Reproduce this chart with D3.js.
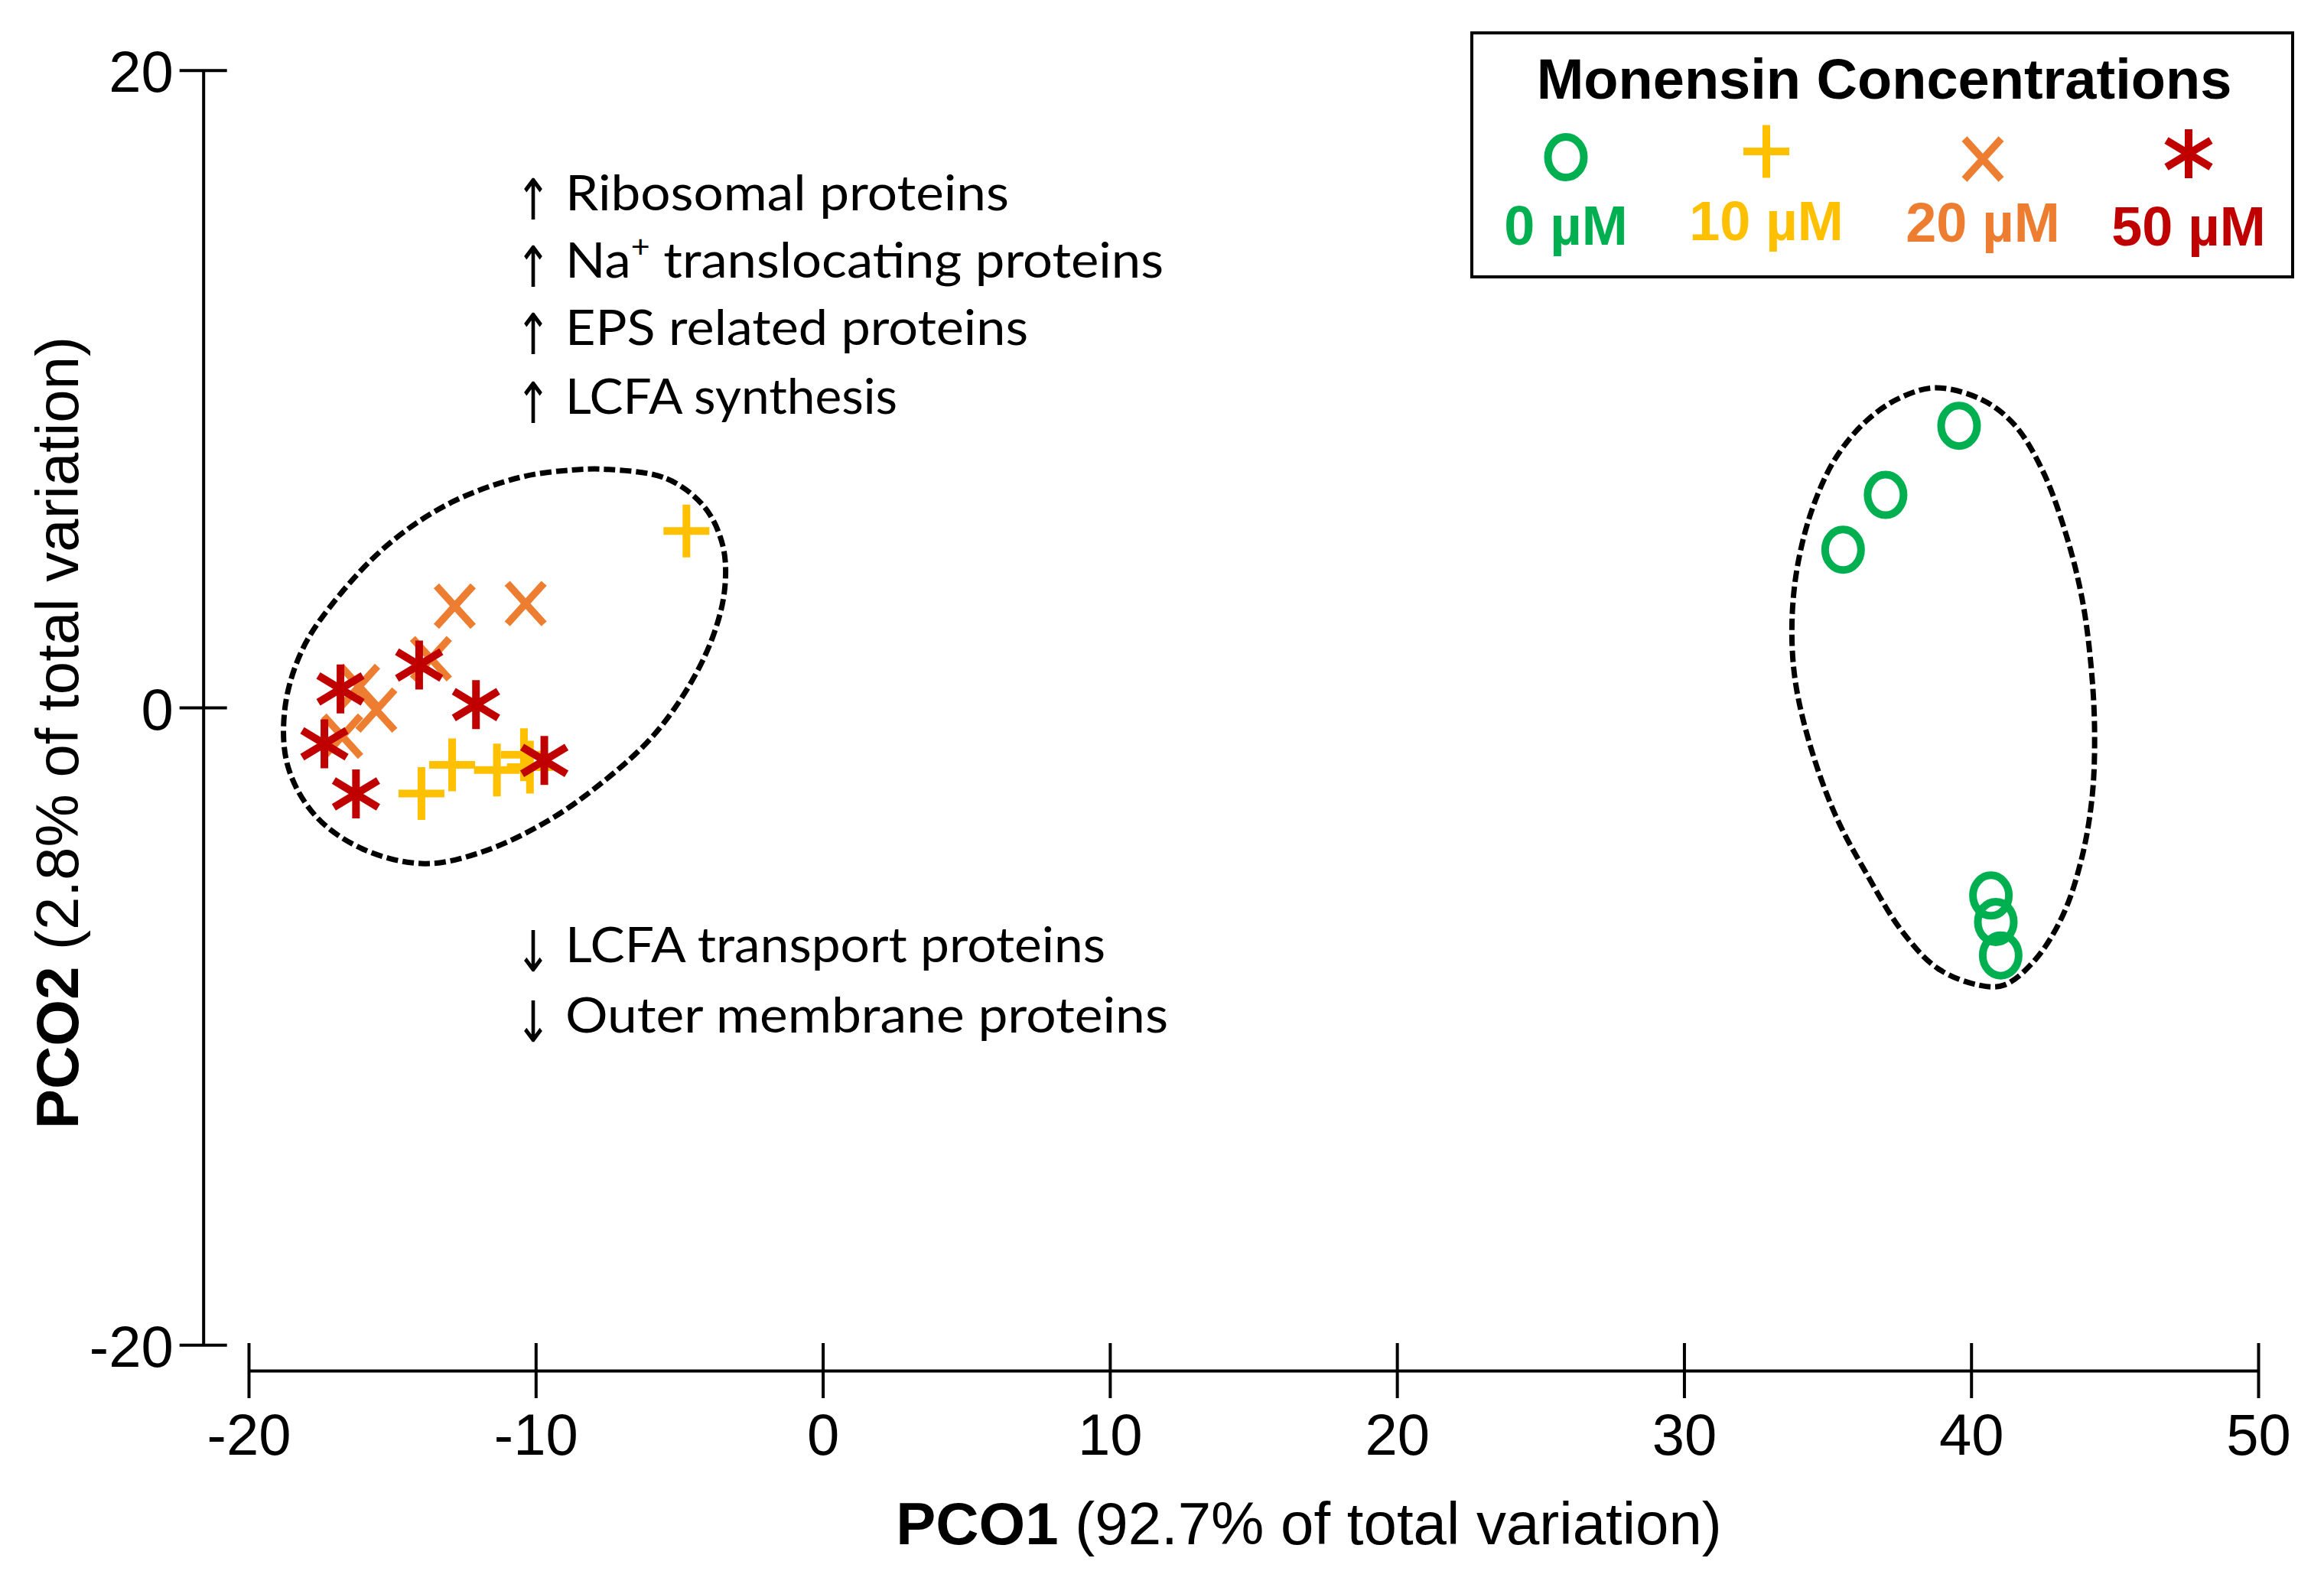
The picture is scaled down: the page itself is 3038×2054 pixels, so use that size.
<!DOCTYPE html>
<html><head><meta charset="utf-8">
<script src="https://cdn.jsdelivr.net/npm/d3@7"></script>
<style>body{margin:0;background:#fff}</style>
</head><body>
<svg id="c" width="3038" height="2054" xmlns="http://www.w3.org/2000/svg"></svg>
<script>
// ---------------- data ----------------
const xTicks = [-20, -10, 0, 10, 20, 30, 40, 50];
const yTicks = [-20, 0, 20];
const groups = ["0 µM", "10 µM", "20 µM", "50 µM"];
const groupColors = ["#00B050", "#FFC000", "#ED7D31", "#C00000"];
const groupSymbols = ["circle", "plus", "cross", "asterisk"];

// PCO1, PCO2 scores per concentration
const pts0  = [[39.58, 8.84], [37.02, 6.67], [35.54, 4.95], [40.69, -5.90], [40.86, -6.73], [41.03, -7.78]];
const pts10 = [[-4.75, 5.54], [-13.98, -2.70], [-12.91, -1.80], [-11.35, -1.96], [-10.41, -1.48], [-10.20, -1.87]];
const pts20 = [[-12.82, 3.18], [-10.35, 3.26], [-13.65, 1.53], [-16.15, 0.66], [-15.55, -0.08], [-16.74, -0.90]];
const pts50 = [[-16.80, 0.58], [-14.06, 1.33], [-17.36, -1.14], [-16.26, -2.71], [-12.08, 0.09], [-9.70, -1.66]];

// cluster outlines (data units)
const hullLeft = [[-7.46,7.47],[-5.44,7.18],[-4.13,6.30],[-3.48,5.07],[-3.42,3.69],[-3.83,2.22],[-4.67,0.66],
  [-5.92,-0.90],[-7.58,-2.28],[-9.60,-3.57],[-11.86,-4.53],[-13.88,-4.90],[-16.03,-4.44],[-17.69,-3.38],
  [-18.64,-1.82],[-18.73,0.01],[-18.11,1.85],[-16.86,3.50],[-15.08,5.16],[-12.93,6.44],[-10.55,7.22],[-8.77,7.45]];
const hullRight = [[38.75,10.03],[40.35,9.67],[41.51,8.87],[42.48,7.45],[43.28,5.51],[43.86,3.44],[44.17,1.38],
  [44.30,-0.69],[44.22,-2.76],[43.86,-4.70],[43.20,-6.51],[42.22,-7.93],[41.15,-8.71],[40.26,-8.71],
  [38.84,-8.19],[37.60,-7.03],[36.36,-5.22],[35.29,-3.41],[34.40,-1.21],[33.87,0.86],[33.76,2.67],
  [33.96,4.48],[34.49,6.29],[35.29,7.84],[36.36,9.00],[37.51,9.71]];

const upLabels = ["Ribosomal proteins", "Na|+| translocating proteins", "EPS related proteins", "LCFA synthesis"];
const downLabels = ["LCFA transport proteins", "Outer membrane proteins"];
const xTitle = ["PCO1", " (92.7% of total variation)"];
const yTitle = ["PCO2", " (2.8% of total variation)"];
const legendTitle = "Monensin Concentrations";

// ---------------- layout ----------------
const W = 3038, H = 2054;
const ARIAL = "'Liberation Sans', Arial, Helvetica, sans-serif";
const CAL = "Lato, 'Open Sans', sans-serif";
const svg = d3.select("#c");
svg.append("rect").attr("width", W).attr("height", H).attr("fill", "#fff");

const x = d3.scaleLinear().domain([-20, 50]).range([325, 2952]);
const y = d3.scaleLinear().domain([-20, 20]).range([1758.3, 91.7]);
const xAxisY = 1792, yAxisX = 265.7;
const fmt = d => String(d);

// x axis
const gx = svg.append("g").attr("transform", `translate(0,${xAxisY})`)
  .call(d3.axisBottom(x).tickValues(xTicks).tickSizeOuter(0).tickFormat(fmt));
gx.select(".domain").attr("stroke", "#000").attr("stroke-width", 4);
gx.selectAll(".tick line").attr("y1", -36).attr("y2", 36).attr("stroke", "#000").attr("stroke-width", 4);
gx.selectAll(".tick text").attr("y", 110).attr("dy", null).attr("fill", "#000")
  .style("font-family", ARIAL).style("font-size", "76px");
gx.attr("font-family", null).attr("font-size", null);

// y axis
const gy = svg.append("g").attr("transform", `translate(${yAxisX},0)`)
  .call(d3.axisLeft(y).tickValues(yTicks).tickSizeOuter(0).tickFormat(fmt));
gy.select(".domain").attr("stroke", "#000").attr("stroke-width", 4);
gy.selectAll(".tick line").attr("x1", -31).attr("x2", 31).attr("stroke", "#000").attr("stroke-width", 4);
gy.selectAll(".tick text").attr("x", -39).attr("dy", "0.37em").attr("fill", "#000")
  .style("font-family", ARIAL).style("font-size", "76px");
gy.attr("font-family", null).attr("font-size", null);

// axis titles
const xt = svg.append("text").attr("x", 1711).attr("y", 2019).attr("text-anchor", "middle")
  .style("font-family", ARIAL).style("font-size", "78px").attr("fill", "#000");
xt.append("tspan").attr("font-weight", "bold").text(xTitle[0]);
xt.append("tspan").text(xTitle[1]);
const yt = svg.append("text").attr("transform", "translate(102,958) rotate(-90)").attr("text-anchor", "middle")
  .style("font-family", ARIAL).style("font-size", "78px").attr("fill", "#000");
yt.append("tspan").attr("font-weight", "bold").text(yTitle[0]);
yt.append("tspan").text(yTitle[1]);

// cluster outlines
const hullLine = d3.line().x(d => x(d[0])).y(d => y(d[1])).curve(d3.curveCatmullRomClosed.alpha(0.5));
svg.selectAll("path.hull").data([hullLeft, hullRight]).join("path").attr("class", "hull")
  .attr("d", hullLine).attr("fill", "none").attr("stroke", "#000").attr("stroke-width", 7)
  .attr("stroke-dasharray", "15,6");

// symbol shapes
function drawSymbol(g, type, color) {
  if (type === "circle") {
    g.append("ellipse").attr("rx", 23.5).attr("ry", 26.5).attr("fill", "none")
      .attr("stroke", color).attr("stroke-width", 10);
  } else {
    const d = type === "plus" ? "M-30,0H30M0,-34.5V34.5"
      : type === "cross" ? "M-24,-26.5L24,26.5M-24,26.5L24,-26.5"
      : "M0,-32V32M-29,-17.5L29,17.5M-29,17.5L29,-17.5";
    g.append("path").attr("d", d).attr("fill", "none").attr("stroke", color)
      .attr("stroke-width", type === "cross" ? 9.5 : 10);
  }
}

// points
[pts0, pts10, pts20, pts50].forEach((pts, i) => {
  const gg = svg.append("g").attr("class", "series-" + i);
  pts.forEach(p => {
    const m = gg.append("g").attr("transform", `translate(${x(p[0])},${y(p[1])})`);
    drawSymbol(m, groupSymbols[i], groupColors[i]);
  });
});

// annotations
const upBase = [274.7, 362.5, 451, 540.5];
const upLen = [580, 782, 605, 434];
const downBase = [1258, 1350];
const downLen = [706, 788];
function annot(label, base, len, arrow) {
  svg.append("text").attr("transform", `translate(697,${base + 12}) scale(0.75,1)`).attr("text-anchor", "middle")
    .style("font-family", "'DejaVu Sans', sans-serif").style("font-size", "74px")
    .attr("fill", "#000").text(arrow);
  const t = svg.append("text").attr("x", 739).attr("y", base)
    .style("font-family", CAL).style("font-size", "64px").attr("fill", "#000")
    .attr("textLength", len).attr("lengthAdjust", "spacingAndGlyphs");
  const parts = label.split("|");
  if (parts.length === 1) t.text(label);
  else {
    t.append("tspan").text(parts[0]);
    t.append("tspan").attr("dy", -26).style("font-size", "40px").text(parts[1]);
    t.append("tspan").attr("dy", 26).text(parts[2]);
  }
}
upLabels.forEach((l, i) => annot(l, upBase[i], upLen[i], "↑"));
downLabels.forEach((l, i) => annot(l, downBase[i], downLen[i], "↓"));

// legend
svg.append("rect").attr("x", 1924).attr("y", 43).attr("width", 1073).attr("height", 319)
  .attr("fill", "#fff").attr("stroke", "#000").attr("stroke-width", 4);
svg.append("text").attr("x", 2463).attr("y", 129).attr("text-anchor", "middle")
  .style("font-family", ARIAL).style("font-size", "74px").style("font-weight", "bold")
  .attr("fill", "#000").text(legendTitle);
const legX = [2047, 2309, 2592, 2861];
const legSymY = [205.5, 198, 208, 201];
const legLabY = [320, 314, 316, 321];
groups.forEach((g, i) => {
  const m = svg.append("g").attr("transform", `translate(${legX[i]},${legSymY[i]})`);
  drawSymbol(m, groupSymbols[i], groupColors[i]);
  svg.append("text").attr("x", legX[i]).attr("y", legLabY[i]).attr("text-anchor", "middle")
    .style("font-family", ARIAL).style("font-size", "72px").style("font-weight", "bold")
    .attr("fill", groupColors[i]).text(g);
});
</script>
</body></html>
